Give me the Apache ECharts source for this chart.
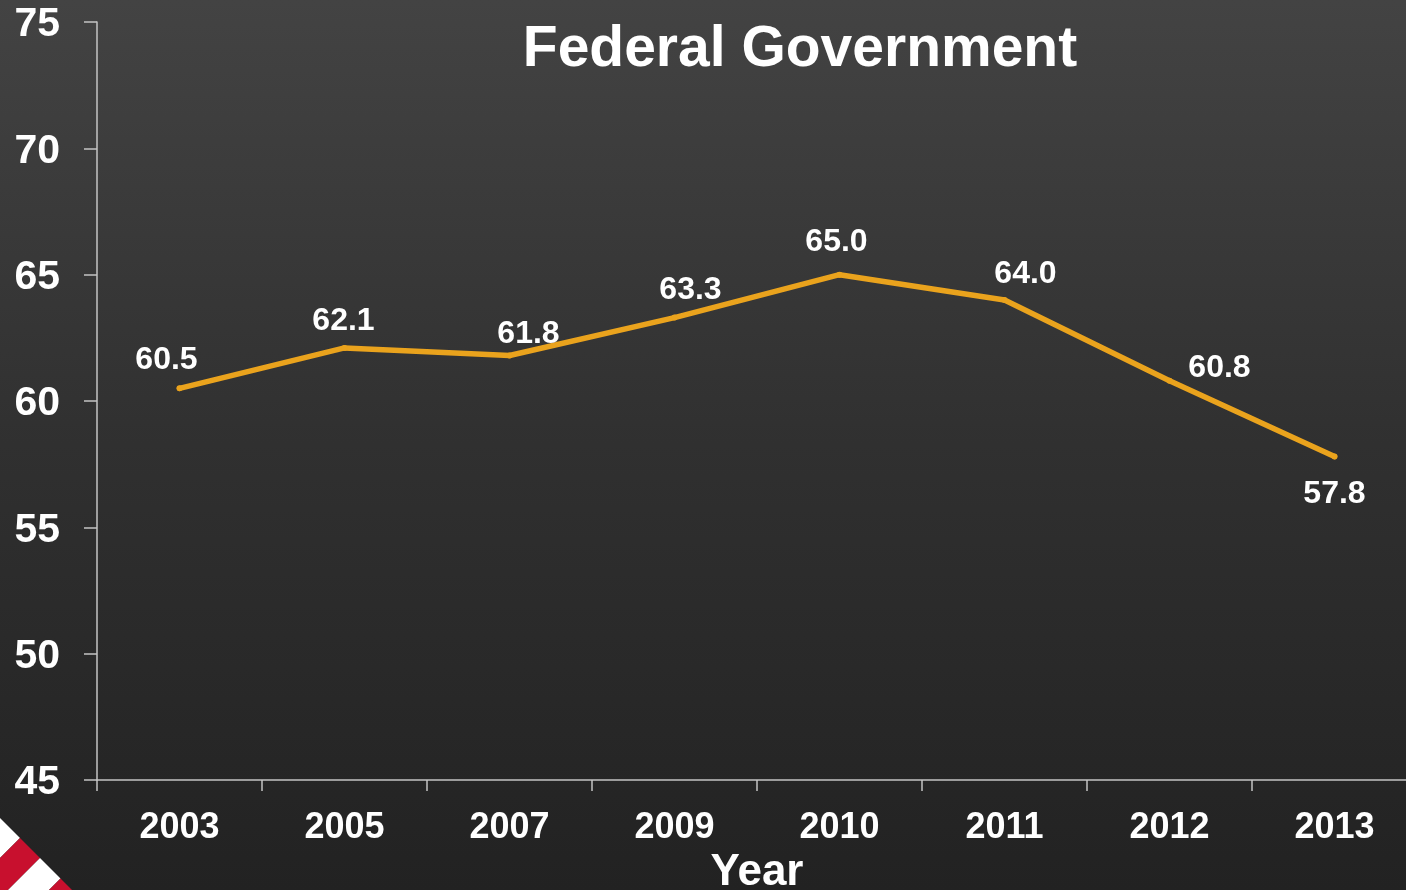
<!DOCTYPE html>
<html>
<head>
<meta charset="utf-8">
<script src="https://cdn.jsdelivr.net/npm/echarts@6/dist/echarts.min.js"></script>
<style>
  html, body { margin: 0; padding: 0; background: #2b2b2b; overflow: hidden; }
  #chart { width: 1406px; height: 890px; }
</style>
</head>
<body>
<div id="chart"></div>
<script>
// Survey years and index values for the federal government
const years = ['2003', '2005', '2007', '2009', '2010', '2011', '2012', '2013'];
const scores = [60.5, 62.1, 61.8, 63.3, 65.0, 64.0, 60.8, 57.8];
const yTicks = [45, 50, 55, 60, 65, 70, 75];

// Per-point label nudges [dx, dy] so labels clear the line
const labelNudges = [[-13, -4], [-1, -3], [19, 3], [16, -3], [-3, -8], [21, -2], [50, 11], [0, 62]];

const FONT = '"Liberation Sans", Arial, Helvetica, sans-serif';
const LINE = '#EAA31D';

// Corner ribbon: diagonal red/white bands clipped to a triangle
function clipPoly(poly, inside, intersect) {
  const out = [];
  for (let i = 0; i < poly.length; i++) {
    const a = poly[i], b = poly[(i + 1) % poly.length];
    const ina = inside(a), inb = inside(b);
    if (ina) out.push(a);
    if (ina !== inb) out.push(intersect(a, b));
  }
  return out;
}
function band(c1, c2) {
  let p = [[0, 818], [72, 890], [0, 890]];
  const f = pt => pt[0] + pt[1];
  const cut = c => (a, b) => {
    const t = (c - f(a)) / (f(b) - f(a));
    return [a[0] + t * (b[0] - a[0]), a[1] + t * (b[1] - a[1])];
  };
  p = clipPoly(p, pt => f(pt) >= c1, cut(c1));
  p = clipPoly(p, pt => f(pt) <= c2, cut(c2));
  return p;
}
const bands = [[818, 858, '#ffffff'], [858, 898, '#C8102E'], [898, 939, '#ffffff'], [939, 970, '#C8102E']];
const ribbon = bands.map(([c1, c2, color]) => ({
  type: 'polygon',
  shape: { points: band(c1, c2) },
  style: { fill: color },
  z: 100
}));

const chart = echarts.init(document.getElementById('chart'), null, { renderer: 'canvas' });
chart.setOption({
  backgroundColor: {
    type: 'linear', x: 0, y: 0, x2: 0, y2: 1,
    colorStops: [
      { offset: 0, color: '#434343' },
      { offset: 0.5, color: '#303030' },
      { offset: 1, color: '#222222' }
    ]
  },
  animation: false,
  textStyle: { fontFamily: FONT },
  title: {
    text: 'Federal Government',
    left: 795,
    top: 17,
    textAlign: 'center',
    textStyle: { color: '#ffffff', fontSize: 57, fontWeight: 'bold', fontFamily: FONT }
  },
  grid: { left: 97, top: 22, width: 1320, height: 758, containLabel: false, outerBoundsMode: 'none' },
  xAxis: {
    type: 'category',
    data: years,
    boundaryGap: true,
    name: 'Year',
    nameLocation: 'middle',
    nameGap: 71,
    nameTextStyle: { color: '#ffffff', fontSize: 44, fontWeight: 'bold', fontFamily: FONT, verticalAlign: 'top' },
    axisLine: { show: true, lineStyle: { color: '#c4c4c4', width: 1.5 } },
    axisTick: { show: true, alignWithLabel: false, length: 11, lineStyle: { color: '#c4c4c4', width: 1.5 } },
    axisLabel: { color: '#ffffff', fontSize: 36, fontWeight: 'bold', margin: 30, fontFamily: FONT },
    splitLine: { show: false }
  },
  yAxis: {
    type: 'value',
    min: yTicks[0],
    max: yTicks[yTicks.length - 1],
    interval: yTicks[1] - yTicks[0],
    axisLine: { show: true, lineStyle: { color: '#c4c4c4', width: 1.5 } },
    axisTick: { show: true, inside: false, length: 13, lineStyle: { color: '#c4c4c4', width: 1.5 } },
    axisLabel: {
      margin: 37,
      formatter: '{v|{value}}',
      rich: {
        v: { color: '#ffffff', fontSize: 41, fontWeight: 'bold', fontFamily: FONT, padding: [6, 0, 0, 0] }
      }
    },
    splitLine: { show: false }
  },
  series: [{
    type: 'line',
    data: scores.map((v, i) => ({
      value: v,
      label: { offset: labelNudges[i] }
    })),
    symbol: 'circle',
    symbolSize: 6,
    showSymbol: true,
    itemStyle: { color: LINE },
    lineStyle: { color: LINE, width: 5.5, cap: 'round', join: 'round' },
    label: {
      show: true,
      position: 'top',
      distance: 5,
      color: '#ffffff',
      fontSize: 32,
      fontWeight: 'bold',
      fontFamily: FONT,
      formatter: p => p.value.toFixed(1)
    }
  }],
  graphic: ribbon
});
</script>
</body>
</html>
